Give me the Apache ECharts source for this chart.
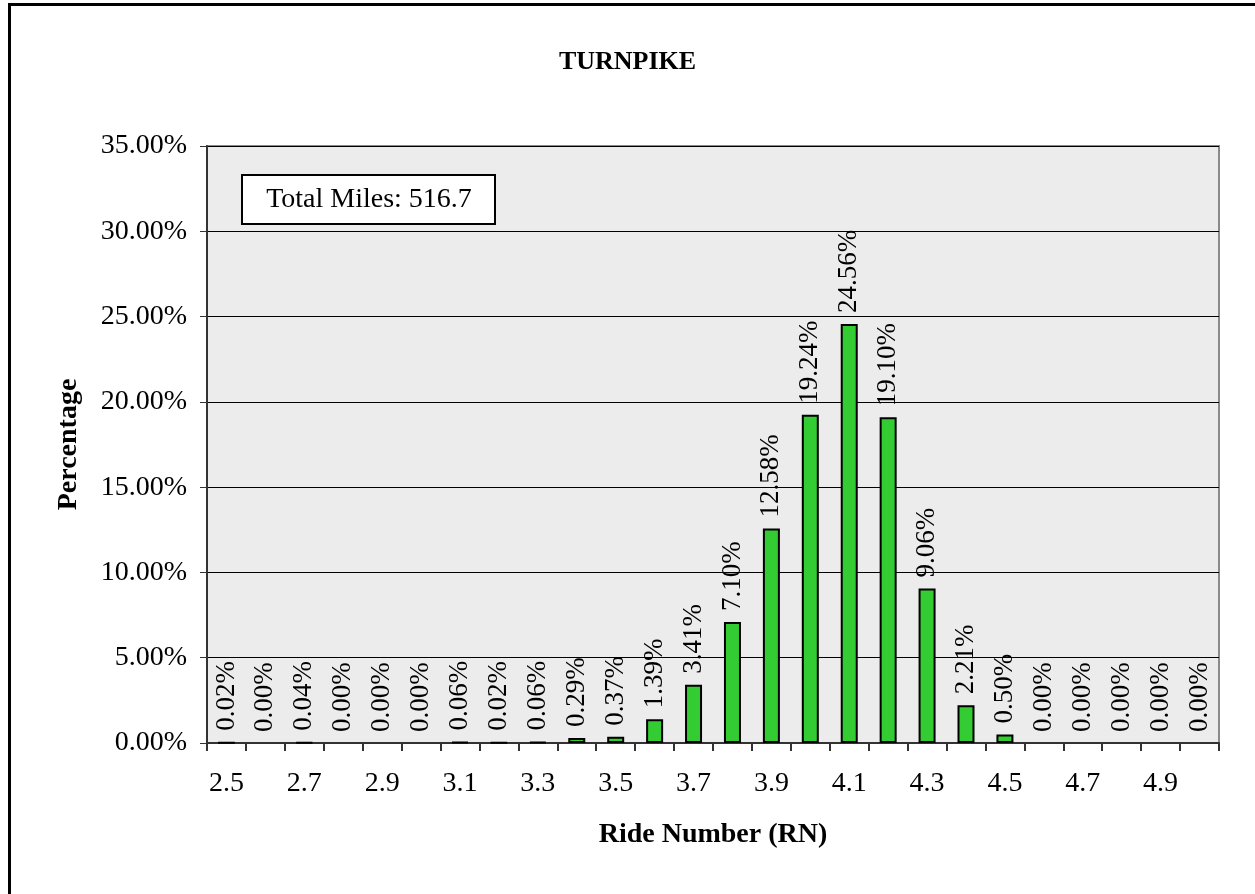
<!DOCTYPE html>
<html>
<head>
<meta charset="utf-8">
<script src="https://cdn.jsdelivr.net/npm/echarts@6/dist/echarts.min.js"></script>
<style>
html, body { margin: 0; padding: 0; background: #fff; }
#myChart { width: 1255px; height: 894px; }
</style>
</head>
<body>
<div id="myChart"></div>
<script>
// data
let rideNumbers = ['2.5', '2.6', '2.7', '2.8', '2.9', '3.0', '3.1', '3.2', '3.3', '3.4', '3.5', '3.6', '3.7',
    '3.8', '3.9', '4.0', '4.1', '4.2', '4.3', '4.4', '4.5', '4.6', '4.7', '4.8', '4.9', '5.0']
let percentages = [0.02, 0.00, 0.04, 0.00, 0.00, 0.00, 0.06, 0.02, 0.06, 0.29, 0.37, 1.39, 3.41,
    7.10, 12.58, 19.24, 24.56, 19.10, 9.06, 2.21, 0.50, 0.00, 0.00, 0.00, 0.00, 0.00]
let totalMiles = 'Total Miles: 516.7'

let font = '"Liberation Serif", "Times New Roman", serif'

let myChart = echarts.init(document.getElementById('myChart'))

// zero bars get no outline so nothing shows on the axis
let barData = percentages.map(v => (v === 0 ? { value: v, itemStyle: { borderWidth: 0 } } : v))

let option = {
    animation: false,
    backgroundColor: '#fff',
    textStyle: { fontFamily: font },
    title: {
        text: 'TURNPIKE',
        left: 'center',
        top: 44,
        textStyle: { fontFamily: font, fontSize: 26, fontWeight: 'bold', color: '#000' }
    },
    grid: {
        left: 207,
        right: 36,
        top: 146,
        bottom: 151,
        show: true,
        backgroundColor: '#ececec',
        borderColor: '#8a8a8a',
        borderWidth: 2
    },
    graphic: [
        {
            type: 'rect',
            left: 7, top: 2,
            shape: { width: 1260, height: 900 },
            style: { fill: 'none', stroke: '#000', lineWidth: 3 },
            z: 10
        },
        {
            type: 'group',
            left: 241, top: 174,
            z: 20,
            children: [
                {
                    type: 'rect',
                    shape: { x: 0, y: 0, width: 253, height: 49 },
                    style: { fill: '#fff', stroke: '#000', lineWidth: 2 }
                },
                {
                    type: 'text',
                    x: 127, y: 25,
                    style: {
                        text: totalMiles,
                        font: '28px ' + font,
                        fill: '#000',
                        align: 'center',
                        verticalAlign: 'middle'
                    }
                }
            ]
        }
    ],
    xAxis: {
        type: 'category',
        data: rideNumbers,
        name: 'Ride Number (RN)',
        nameLocation: 'middle',
        nameGap: 78,
        nameTextStyle: { fontFamily: font, fontSize: 28, fontWeight: 'bold', color: '#000' },
        axisLine: { lineStyle: { color: '#333', width: 2 } },
        axisTick: { show: true, interval: 0, length: 8, lineStyle: { color: '#333', width: 2 } },
        axisLabel: {
            interval: 1,
            margin: 27,
            fontFamily: font,
            fontSize: 28,
            color: '#000'
        }
    },
    yAxis: {
        type: 'value',
        min: 0,
        max: 35,
        interval: 5,
        name: 'Percentage',
        nameLocation: 'middle',
        nameGap: 124,
        nameTextStyle: { fontFamily: font, fontSize: 28, fontWeight: 'bold', color: '#000' },
        axisLine: { show: true, lineStyle: { color: '#333', width: 2 } },
        axisTick: { show: true, length: 7, lineStyle: { color: '#333' } },
        axisLabel: {
            margin: 20,
            fontFamily: font,
            fontSize: 28,
            color: '#000',
            formatter: function (v) { return v.toFixed(2) + '%' }
        },
        splitLine: { lineStyle: { color: '#000', width: 1 } }
    },
    series: [
        {
            type: 'bar',
            data: barData,
            barWidth: 17,
            itemStyle: {
                color: '#33cc33',
                borderColor: '#000',
                borderWidth: 2
            },
            label: {
                show: true,
                position: 'top',
                rotate: 90,
                align: 'left',
                verticalAlign: 'middle',
                distance: 11,
                fontFamily: font,
                fontSize: 27,
                color: '#000',
                formatter: function (p) { return p.value.toFixed(2) + '%' }
            }
        }
    ]
}
myChart.setOption(option)

window.addEventListener('resize', () => {
    myChart.resize()
})
</script>
</body>
</html>
